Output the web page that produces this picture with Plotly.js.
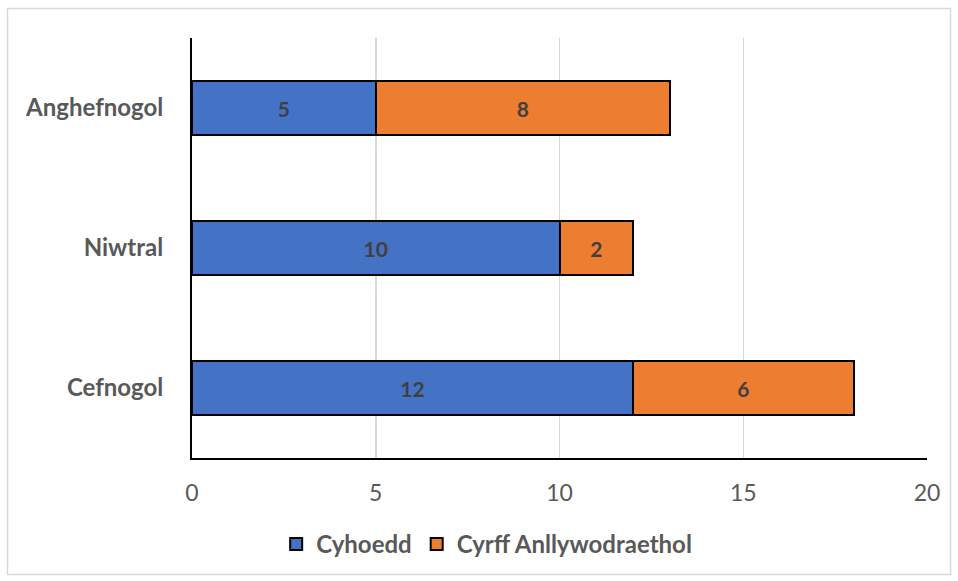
<!DOCTYPE html>
<html><head><meta charset="utf-8">
<script src="https://cdn.plot.ly/plotly-3.0.1.min.js"></script>
<style>html,body{margin:0;padding:0;background:#fff}#c{width:958px;height:581px}</style>
</head><body><div id="c"></div>
<script>
const categories = ["Cefnogol", "Niwtral", "Anghefnogol"];
const cyhoedd = [12, 10, 5];
const cyrff = [6, 2, 8];
const seriesNames = ["Cyhoedd", "Cyrff Anllywodraethol"];
const xTicks = [0, 5, 10, 15, 20];

const FONT = "Lato, 'Liberation Sans', sans-serif";
function bar(vals, name, color) {
  return {
    type: "bar", orientation: "h", y: categories, x: vals, name: name,
    marker: {color: color, line: {color: "#000", width: 2}},
    text: vals.map(String), textposition: "inside", insidetextanchor: "middle",
    textfont: {family: FONT, size: 21, color: "#404040", weight: "bold"},
    constraintext: "none", hoverinfo: "none"
  };
}
const data = [bar(cyhoedd, seriesNames[0], "#4472C4"), bar(cyrff, seriesNames[1], "#ED7D31")];
const layout = {
  width: 958, height: 581,
  margin: {l: 192, r: 31, t: 38, b: 123},
  barmode: "stack", bargap: 0.61,
  paper_bgcolor: "#fff", plot_bgcolor: "#fff",
  font: {family: FONT, color: "#595959"},
  xaxis: {range: [0, 20], tickvals: xTicks, ticktext: xTicks.map(String),
    showgrid: true, gridcolor: "#d9d9d9", gridwidth: 1.5,
    zeroline: false, showline: true, linecolor: "#000", linewidth: 2,
    ticks: "", ticklabelstandoff: 13, tickfont: {family: FONT, size: 23, color: "#595959"},
    fixedrange: true},
  yaxis: {showgrid: false, zeroline: false, showline: true, linecolor: "#000", linewidth: 2,
    ticks: "", ticklabelstandoff: 22, tickfont: {family: FONT, size: 24, color: "#595959", weight: "bold"},
    fixedrange: true},
  showlegend: true,
  legend: {orientation: "h", xref: "container", yref: "container", x: 0.508, xanchor: "center",
    y: 0.063, yanchor: "middle", traceorder: "normal", itemwidth: 30,
    font: {family: FONT, size: 24, color: "#595959", weight: "bold"}},
  shapes: [{type: "rect", xref: "paper", yref: "paper",
    x0: (7.5 - 192) / 735, x1: (950.5 - 192) / 735,
    y0: (458 - 574.5) / 420, y1: (458 - 8.5) / 420,
    line: {color: "#d9d9d9", width: 1.5}, layer: "below"}]
};
Plotly.newPlot("c", data, layout, {displayModeBar: false, staticPlot: true});
</script></body></html>
